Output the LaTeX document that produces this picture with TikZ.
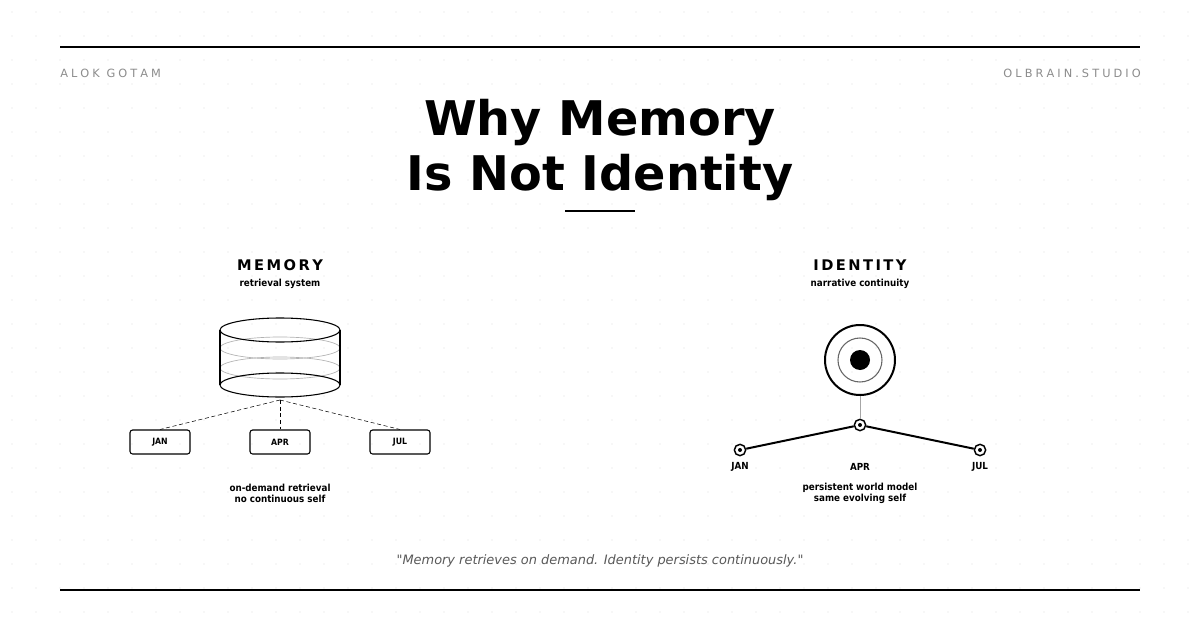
\documentclass[tikz,border=0pt]{standalone}
\usepackage{fontspec}
\setmainfont{DejaVu Sans}
\newfontfamily\cond{DejaVu Sans Condensed}
\begin{document}
\begin{tikzpicture}[x=0.75pt,y=-0.75pt,
  lbl/.style={font=\cond\fontsize{7.3}{8.4}\selectfont\bfseries,inner sep=0pt},
  mbox/.style={draw,thick,rounded corners=2pt,minimum width=45pt,minimum height=18pt,inner sep=0pt,font=\cond\fontsize{6.5}{7}\selectfont\bfseries},
  tnode/.style={circle,draw,line width=1.1pt,fill=white,minimum size=8.5pt,inner sep=0pt}]
\useasboundingbox[fill=white] (0,0) rectangle (1200,628);
\foreach \i in {0,...,49}{\foreach \j in {0,...,26}{\fill[black!6] (12+24*\i,12+24*\j) circle (0.8);}}
\draw[line width=1.5pt] (60,47) -- (1140,47);
\draw[line width=1.5pt] (60,590) -- (1140,590);
\node[anchor=west,text=black!45,font=\fontsize{8.5}{10}\selectfont,inner sep=0pt] (au) at (60,73) {A\kern2.3pt L\kern2.3pt O\kern2.3pt K\ \kern2.3pt G\kern2.3pt O\kern2.3pt T\kern2.3pt A\kern2.3pt M};
\node[anchor=east,text=black!45,font=\fontsize{8.5}{10}\selectfont,inner sep=0pt] (st) at (1141,73) {O\kern2.3pt L\kern2.3pt B\kern2.3pt R\kern2.3pt A\kern2.3pt I\kern2.3pt N\kern2.3pt .\kern2.3pt S\kern2.3pt T\kern2.3pt U\kern2.3pt D\kern2.3pt I\kern2.3pt O};
\node[font=\fontsize{35.8}{41}\selectfont\bfseries,align=center,inner sep=0pt] (title) at (600,150) {Why Memory\\Is Not Identity};
\draw[line width=2.2pt] (565,211) -- (635,211);
% memory
\node[font=\fontsize{11}{12}\selectfont\bfseries,inner sep=0pt] (mt) at (280,265) {M\,E\,M\,O\,R\,Y};
\node[lbl] (ms) at (280,284) {retrieval system};
\draw[black!30,line width=0.5pt] (280,348) ellipse (60 and 11);
\draw[black!30,line width=0.5pt] (280,368) ellipse (60 and 11);
\draw[thick] (280,330) ellipse (60 and 12);
\draw[thick] (280,385) ellipse (60 and 12);
\draw[thick] (220,330) -- (220,385) (340,330) -- (340,385);
\coordinate (hub) at (280,400);
\node[mbox] (b1) at (160,442) {JAN};
\node[mbox] (b2) at (280,442) {APR};
\node[mbox] (b3) at (400,442) {JUL};
\draw[densely dashed] (hub) -- (b1.north);
\draw[densely dashed] (hub) -- (b2.north);
\draw[densely dashed] (hub) -- (b3.north);
\node[lbl,align=center] (mc) at (280,493) {on-demand retrieval\\no continuous self};
% identity
\node[font=\fontsize{11}{12}\selectfont\bfseries,inner sep=0pt] (it) at (860,265) {I\,D\,E\,N\,T\,I\,T\,Y};
\node[lbl] (is) at (860,284) {narrative continuity};
\node[circle,draw,line width=1.5pt,minimum size=52.5pt,inner sep=0pt] (core) at (860,360) {};
\draw[black!60,line width=0.8pt] (860,360) circle (22);
\fill (860,360) circle (10);
\node[tnode] (t2) at (860,425) {};
\node[tnode] (t1) at (740,450) {};
\node[tnode] (t3) at (980,450) {};
\draw[black!35] (core.south) -- (t2.north);
\draw[line width=1.5pt] (t1) -- (t2) -- (t3);
\foreach \t in {t1,t2,t3}{\fill (\t) circle (2);}
\node[lbl] (l1) at (740,467) {JAN};
\node[lbl] (l2) at (860,467) {APR};
\node[lbl] (l3) at (980,467) {JUL};
\node[lbl,align=center] (ic) at (860,493) {persistent world model\\same evolving self};
\node[font=\fontsize{9.7}{12}\selectfont\itshape,text=black!65,inner sep=0pt] (q) at (600,561) {\textquotedbl Memory retrieves on demand. Identity persists continuously.\textquotedbl};
\end{tikzpicture}
\end{document}
